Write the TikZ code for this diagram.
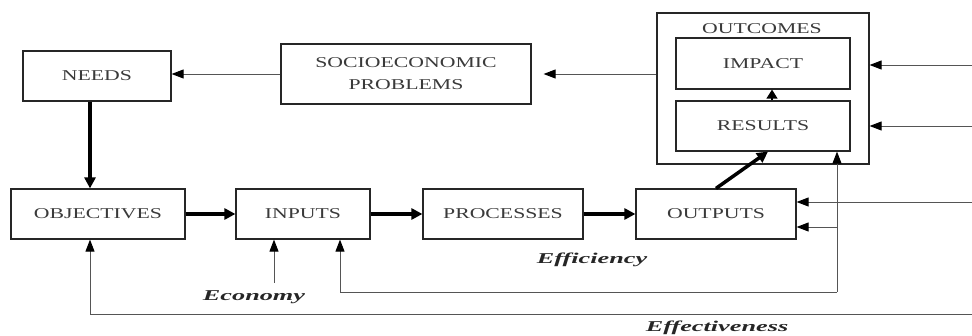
\documentclass[tikz,border=0pt]{standalone}
\usepackage{fontspec}
\setmainfont{Liberation Serif}[FakeStretch=1.45]
\newfontfamily\labfont{Liberation Serif}[FakeStretch=1.75]
\usetikzlibrary{arrows.meta}
\definecolor{txt}{HTML}{3A3A3A}
\definecolor{ln}{HTML}{555555}
\tikzset{
  box/.style={draw=black!85, line width=1.2pt, rectangle, inner sep=0pt, text=txt, font=\fontsize{15}{22}\selectfont, align=center},
  thinarr/.style={draw=ln, line width=0.9pt, -{Triangle[length=12pt,width=9pt,fill=black,color=black]}},
  thickarr/.style={draw=black, line width=3.5pt, -{Triangle[length=11pt,width=11pt]}},
  lab/.style={font=\labfont\bfseries\itshape\fontsize{15}{18}\selectfont, text=black!85, inner sep=0pt}
}
\begin{document}
\begin{tikzpicture}[x=1pt,y=-1pt]
\useasboundingbox (0,0) rectangle (972,336);
% boxes
\node[box, minimum width=148, minimum height=50] (needs) at (97,76) {NEEDS};
\node[box, minimum width=250, minimum height=60] (socio) at (406,74) {SOCIOECONOMIC\\PROBLEMS};
\node[box, minimum width=212, minimum height=151] (outcomes) at (763,88.5) {};
\node[text=txt, font=\fontsize{15}{18}\selectfont, inner sep=0pt] (outlab) at (762,29) {OUTCOMES};
\node[box, minimum width=174, minimum height=51] (impact) at (763,63.5) {IMPACT};
\node[box, minimum width=174, minimum height=50] (results) at (763,126) {RESULTS};
\node[box, minimum width=174, minimum height=50] (objectives) at (98,214) {OBJECTIVES};
\node[box, minimum width=134, minimum height=50] (inputs) at (303,214) {INPUTS};
\node[box, minimum width=160, minimum height=50] (processes) at (503,214) {PROCESSES};
\node[box, minimum width=160, minimum height=50] (outputs) at (716,214) {OUTPUTS};
% labels
\node[lab] (economy) at (254,297) {Economy};
\node[lab] (efficiency) at (592,260) {Efficiency};
\node[lab] (effectiveness) at (717,328) {Effectiveness};
% coordinates
\coordinate (r1) at (972,65);
\coordinate (r2) at (972,126);
\coordinate (r3) at (972,202);
\coordinate (r4) at (972,314);
\coordinate (effc) at (837,292);
\coordinate (br) at (837,227);
\coordinate (eco) at (274,283);
% thin arrows
\draw[thinarr] (socio.west) -- (socio.west -| needs.east);
\draw[thinarr, shorten >=12pt] (outcomes.west |- socio.east) -- (socio.east);
\draw[thinarr] (r1) -- (r1 -| outcomes.east);
\draw[thinarr] (r2) -- (r2 -| outcomes.east);
\draw[thinarr] (r3) -- (r3 -| outputs.east);
\draw[thinarr] (br) -- (br -| outputs.east);
\draw[thinarr] (effc) -| ([xshift=37pt]inputs.south);
\draw[thinarr] (effc) -- ([xshift=74pt]results.south);
\draw[thinarr] (r4) -| ([xshift=-8pt]objectives.south);
\draw[thinarr] (eco) -- (eco |- inputs.south);
\draw[draw=black, line width=1.2pt, -{Triangle[length=9pt,width=11pt]}] ([xshift=9pt]results.north) -- ([xshift=9pt]impact.south);
% thick arrows
\draw[thickarr] ([xshift=-7pt]needs.south) -- ([xshift=-7pt]needs.south |- objectives.north);
\draw[thickarr] (objectives.east) -- (inputs.west);
\draw[thickarr] (inputs.east) -- (processes.west);
\draw[thickarr] (processes.east) -- (outputs.west);
\draw[thickarr] (outputs.north) -- ([xshift=5pt]results.south);
\end{tikzpicture}
\end{document}
